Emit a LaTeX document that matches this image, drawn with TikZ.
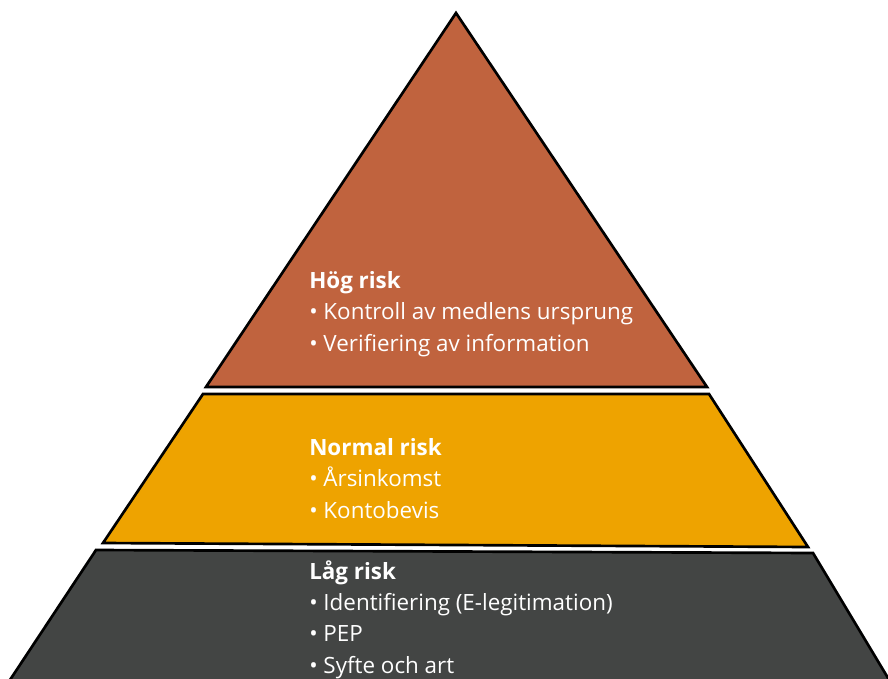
\documentclass[tikz,border=0pt]{standalone}
\usepackage{fontspec}
\setmainfont{Open Sans}
\usepackage{tikz}
\usetikzlibrary{calc,positioning}
\definecolor{RiskHigh}{HTML}{C0633E}
\definecolor{RiskNormal}{HTML}{EEA300}
\definecolor{RiskLow}{HTML}{434544}

\begin{document}
\begin{tikzpicture}[x=0.75pt,y=-0.75pt,font=\fontsize{16.8pt}{23.4pt}\selectfont,
      layer/.style={draw=black,line width=2pt,line join=miter},
      txt/.style={text=white,align=left,anchor=base west,inner sep=0pt}]
      \useasboundingbox (0,0) rectangle (888,678);
      % three bands of the pyramid
      \draw[layer,fill=RiskHigh] (456,13) -- (707,387) -- (206,387) -- cycle;
      \draw[layer,fill=RiskNormal] (203,394) -- (709,394) -- (808,547) -- (103,543) -- cycle;
      \draw[layer,fill=RiskLow] (96,550) -- (813,553) -- (900,698) -- (-2,698) -- cycle;
      % labels (base anchor sits on the last line)
      \node[txt] (hog) at (309,351) {\textbf{Hög risk}\\• Kontroll av medlens ursprung\\• Verifiering av information};
      \node[txt] (normal) at (309,518) {\textbf{Normal risk}\\• Årsinkomst\\• Kontobevis};
      \node[txt] (lag) at (309,673) {\textbf{Låg risk}\\• Identifiering (E-legitimation)\\• PEP\\• Syfte och art};
    \end{tikzpicture}
\end{document}
